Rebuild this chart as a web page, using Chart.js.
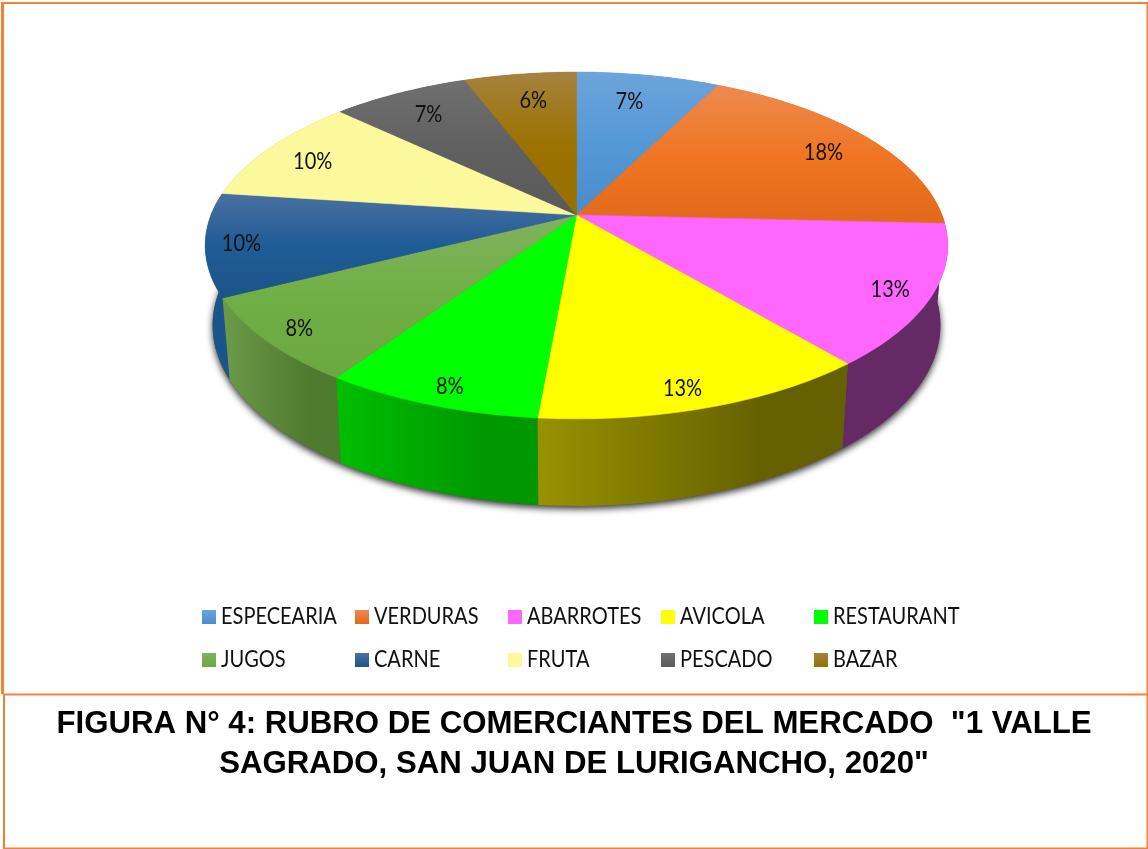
<!DOCTYPE html>
<html>
<head>
<meta charset="utf-8">
<style>html,body{margin:0;padding:0;background:#fff}canvas{display:block}</style>
<script src="https://cdn.jsdelivr.net/npm/chart.js@4"></script>
</head>
<body>
<canvas id="c" width="1148" height="849"></canvas>
<script>
const categories = ['ESPECEARIA','VERDURAS','ABARROTES','AVICOLA','RESTAURANT','JUGOS','CARNE','FRUTA','PESCADO','BAZAR'];
const shares = [7.4,18.4,13.1,12.5,8.1,8.0,9.6,10.0,7.1,5.8];
const titleLines = ['FIGURA N° 4: RUBRO DE COMERCIANTES DEL MERCADO  "1 VALLE','SAGRADO, SAN JUAN DE LURIGANCHO, 2020"'];
// top-face gradient: light, base, dark
const faceColors = [
  ['#6CA4DC','#5598D6','#4A8CCB'],['#EE8A4E','#F07623','#E2691B'],['#FF66FF','#FF66FF','#FF66FF'],
  ['#FFFF00','#FFFF00','#FFFF00'],['#00FF00','#00FF00','#00FF00'],['#80B25F','#70AF45','#6CA840'],
  ['#4A70A0','#1F5C96','#1C5488'],['#FBF99B','#FBF99B','#FBF99B'],['#707070','#606060','#5A5A5A'],
  ['#A5823F','#9C7200','#967000']];
const sideColors = [
  ['#3D6F9E','#3D6F9E'],['#A8551C','#A8551C'],['#652A66','#652A66'],['#989200','#666100'],
  ['#00BF00','#009800'],['#6B9B48','#4F7B2E'],['#1B5488','#1B5488'],['#A8A660','#A8A660'],
  ['#444','#444'],['#6A5000','#6A5000']];
// hand placement of the percentage labels relative to their computed spot
const labelNudgeX = [-6,3,-5,-11,4,0,0,-5,-2,3];
const labelNudgeY = [1,3,2,3,3,1,2,3,0,1];

const cx = 576.5, cy = 215, A = 365.5, B = 168, K = 0.1758;
const wallSX = 0.98, wallSY = 1.042, wallDrop = 78.5, TEXT_SX = 0.87;
function proj(a, r, bottom) {
  const u = r * Math.cos(a), v = r * Math.sin(a), w = 1 - K * v;
  const X = A * u / w, Y = B * v / w;
  return bottom ? {x: cx + wallSX * X, y: cy + wallSY * Y + wallDrop} : {x: cx + X, y: cy + Y};
}
function arcPts(a0, a1, bottom) {
  const n = Math.max(8, Math.ceil((a1 - a0) * 40)), p = [];
  for (let i = 0; i <= n; i++) p.push(proj(a0 + (a1 - a0) * i / n, 1, bottom));
  return p;
}
function narrowText(c, text, x, y) {
  c.save(); c.translate(x, y); c.scale(TEXT_SX, 1); c.fillText(text, 0, 0); c.restore();
}
const pie3d = {
  id: 'pie3d',
  beforeDraw(chart) {
    const c = chart.ctx, W = chart.width, H = chart.height;
    c.save();
    c.fillStyle = '#fff'; c.fillRect(0, 0, W, H);
    c.fillStyle = '#F08236';
    c.fillRect(1, 2, W - 1, 2);
    c.fillRect(1, 2, 3, 692);
    c.fillRect(3, 693.5, W - 3, 2);
    c.fillRect(3, 694, 2, H - 694);
    c.fillRect(W - 1.5, 2, 1.5, H - 2);
    c.fillRect(3, H - 1.5, W - 3, 1.5);
    c.restore();
  },
  beforeDatasetDraw(chart, args) {
    const c = chart.ctx, arcs = chart.getDatasetMeta(args.index).data;
    // drop shadow of the bottom disc
    c.save();
    c.shadowColor = 'rgba(0,0,0,0.8)'; c.shadowBlur = 7; c.shadowOffsetY = 3; c.fillStyle = '#555';
    c.beginPath();
    arcPts(-Math.PI / 2, Math.PI * 1.5, true).forEach((p, i) => i ? c.lineTo(p.x, p.y) : c.moveTo(p.x, p.y));
    c.closePath(); c.fill();
    c.restore();
    // walls, back to front
    const order = arcs.map((e, i) => i).sort((a, b) =>
      Math.sin((arcs[a].startAngle + arcs[a].endAngle) / 2) - Math.sin((arcs[b].startAngle + arcs[b].endAngle) / 2));
    order.forEach(i => {
      const e = arcs[i], top = arcPts(e.startAngle, e.endAngle, false), bot = arcPts(e.startAngle, e.endAngle, true).reverse();
      const all = top.concat(bot), xs = all.map(p => p.x);
      const g = c.createLinearGradient(Math.min(...xs), 0, Math.max(...xs), 0);
      g.addColorStop(0, sideColors[i][0]); g.addColorStop(0.72, sideColors[i][1]); g.addColorStop(1, sideColors[i][1]);
      c.fillStyle = g;
      c.beginPath();
      all.forEach((p, j) => j ? c.lineTo(p.x, p.y) : c.moveTo(p.x, p.y));
      c.closePath(); c.fill();
    });
    // top faces
    arcs.forEach((e, i) => {
      const pts = [{x: cx, y: cy}].concat(arcPts(e.startAngle, e.endAngle, false)), ys = pts.map(p => p.y);
      const y0 = Math.min(...ys), y1 = Math.max(...ys);
      const g = c.createLinearGradient(0, y0, 0, y1);
      g.addColorStop(0, faceColors[i][0]); g.addColorStop(0.5, faceColors[i][1]); g.addColorStop(1, faceColors[i][2]);
      c.fillStyle = g; c.strokeStyle = g; c.lineWidth = 0.6;
      c.beginPath();
      pts.forEach((p, j) => j ? c.lineTo(p.x, p.y) : c.moveTo(p.x, p.y));
      c.closePath(); c.fill(); c.stroke();
    });
    return false;
  },
  afterDatasetsDraw(chart) {
    const c = chart.ctx, arcs = chart.getDatasetMeta(0).data;
    c.save();
    c.font = '23px Lato'; c.fillStyle = '#111'; c.textAlign = 'center'; c.textBaseline = 'middle';
    arcs.forEach((e, i) => {
      const mid = (e.startAngle + e.endAngle) / 2, v = Math.sin(mid);
      const r = v > 0 ? 0.905 : 0.866 + 0.073 * v;
      const p = proj(mid, r, false);
      narrowText(c, Math.round(shares[i]) + '%', p.x + labelNudgeX[i], p.y + labelNudgeY[i]);
    });
    // legend: two rows of five columns
    c.textAlign = 'left';
    categories.forEach((name, i) => {
      const col = i % 5, row = Math.floor(i / 5), x = 202 + col * 153, y = 617 + row * 43;
      const g = c.createLinearGradient(0, y - 7, 0, y + 7);
      g.addColorStop(0, faceColors[i][0]); g.addColorStop(1, faceColors[i][2]);
      c.fillStyle = g; c.fillRect(x, y - 7, 14, 14);
      c.fillStyle = '#111'; narrowText(c, name, x + 19, y);
    });
    c.restore();
  }
};
new Chart(document.getElementById('c'), {
  type: 'pie',
  data: {labels: categories, datasets: [{data: shares, backgroundColor: faceColors.map(f => f[1]), borderWidth: 0}]},
  plugins: [pie3d],
  options: {
    responsive: false, animation: false,
    layout: {padding: 0},
    plugins: {
      legend: {display: false}, tooltip: {enabled: false},
      title: {display: true, position: 'bottom', text: titleLines, color: '#000',
        font: {family: '"Liberation Sans"', size: 31.2, weight: 'bold', lineHeight: 40 / 31.2},
        padding: {top: 0, bottom: 65}}
    }
  }
});
</script>
</body>
</html>
